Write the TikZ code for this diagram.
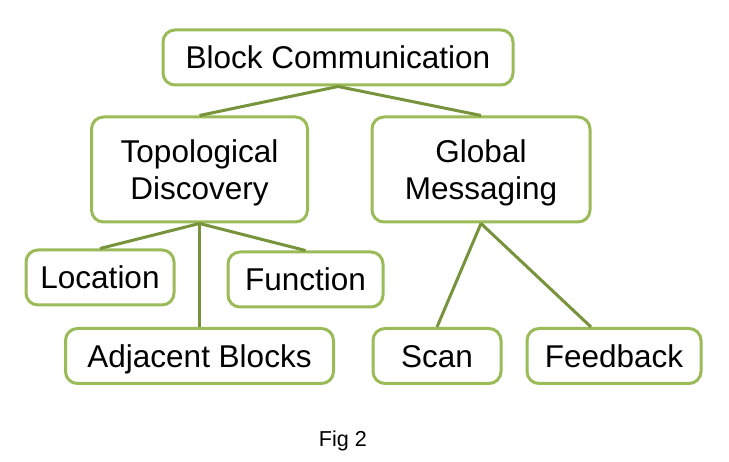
\documentclass[tikz,border=0pt]{standalone}
\usepackage{fontspec}
\setmainfont{Liberation Sans}
\usepackage{tikz}
\usepackage{xcolor}

\definecolor{boxgreen}{HTML}{9BBB59}
\definecolor{linegreen}{HTML}{77933C}

\tikzset{
    block/.style={draw=boxgreen, line width=3pt, rounded corners=12pt, fill=white,
        minimum height=55pt, inner sep=0pt, align=center,
        text height=23pt, text depth=0pt,
        font=\fontsize{31.5}{36.7}\selectfont},
    twoline/.style={block, minimum height=105pt, text height=59.7pt},
    link/.style={draw=linegreen, line width=3pt}
}

\begin{document}
\begin{tikzpicture}[x=1pt,y=-1pt]
        \useasboundingbox (0,0) rectangle (729,462);
        % Top level
        \node[block, minimum width=350pt] (comm) at (338,57.5) {Block Communication};
        % Second level
        \node[twoline, minimum width=216pt] (topo) at (199.5,169.5) {Topological\\Discovery};
        \node[twoline, minimum width=218pt] (glob) at (481,169.5) {Global\\Messaging};
        % Leaves under Topological Discovery
        \node[block, minimum width=148pt] (loc) at (100,277.5) {Location};
        \node[block, minimum width=155pt] (func) at (305.5,279.5) {Function};
        \node[block, minimum width=268pt] (adj) at (199.5,356) {Adjacent Blocks};
        % Leaves under Global Messaging
        \node[block, minimum width=128pt] (scan) at (437,356) {Scan};
        \node[block, minimum width=174pt] (feed) at (614,356) {Feedback};
        % Connectors
        \draw[link] (comm.south) -- (topo.north);
        \draw[link] (comm.south) -- (glob.north);
        \draw[link] (topo.south) -- (loc.north);
        \draw[link] (topo.south) -- (func.north);
        \draw[link] (topo.south) -- (adj.north);
        \draw[link] (glob.south) -- (scan.north);
        \draw[link] (glob.south) -- ([xshift=-23pt]feed.north);
        % Caption
        \node[font=\fontsize{21.6}{24}\selectfont] (cap) at (343,441) {Fig 2};
\end{tikzpicture}
\end{document}
